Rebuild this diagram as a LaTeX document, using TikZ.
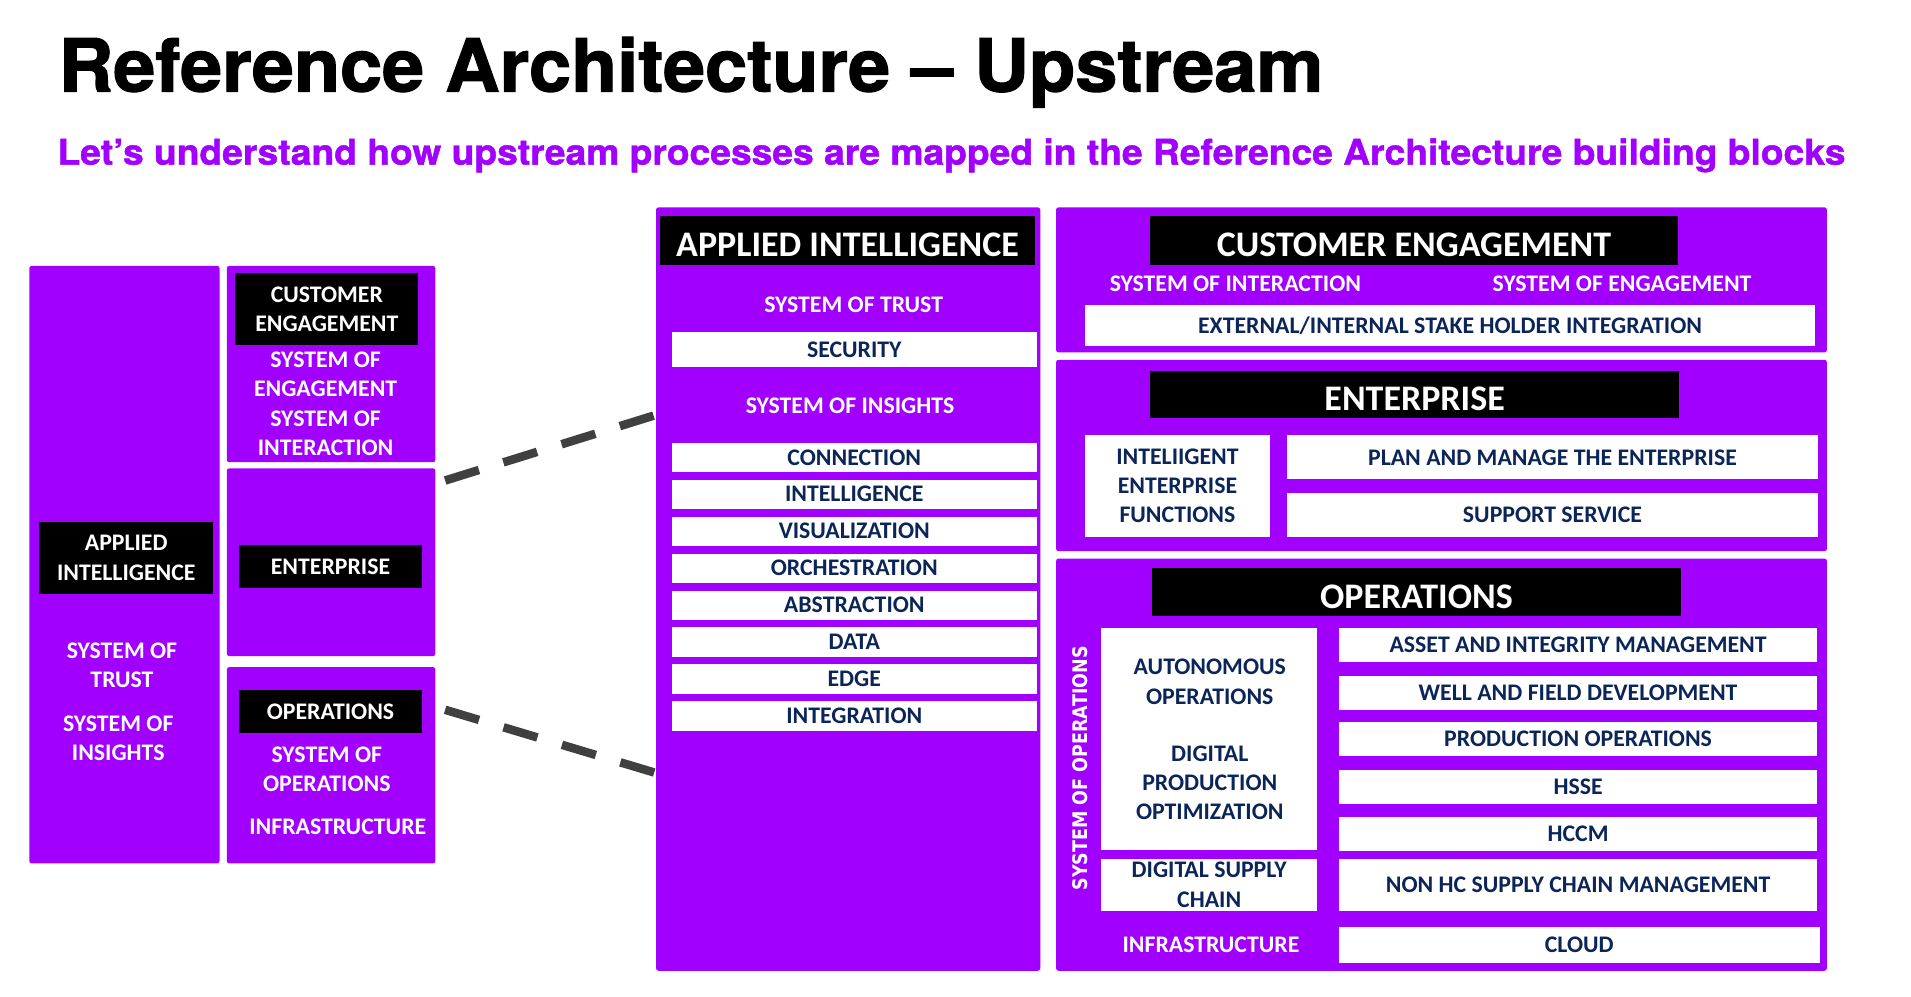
\documentclass[tikz,border=0pt]{standalone}
\usepackage{fontspec}
\usepackage{graphicx}
\setmainfont{Carlito}
\newfontfamily\ttlfont{TeX Gyre Heros}[BoldFeatures={FakeBold=1.6}]
\newfontfamily\subfont{TeX Gyre Heros}[BoldFeatures={FakeBold=1.2}]
\newfontfamily\vtfont{DejaVu Sans}
\definecolor{apurple}{HTML}{A100FF}
\definecolor{anavy}{HTML}{0B2559}
\definecolor{dashgray}{HTML}{404040}
\newcommand\rbox[7]{\node[#2, minimum width={(#5)-(#3)}, minimum height={(#6)-(#4)}] (#1) at ({((#3)+(#5))/2},{((#4)+(#6))/2}) {#7};}
\tikzset{
 pbox/.style={fill=apurple, draw=none, rounded corners=2pt, inner sep=0pt, outer sep=0pt},
 blk/.style={fill=black, text=white, inner sep=0pt, outer sep=0pt, align=center, font=\bfseries\fontsize{19.5}{24}\selectfont},
 blkbig/.style={blk, font=\bfseries\fontsize{29.5}{34}\selectfont, text height=27pt, text depth=0pt},
 wbox/.style={fill=white, text=anavy, inner sep=0pt, outer sep=0pt, align=center, font=\bfseries\fontsize{19.5}{24}\selectfont},
 wtxt/.style={text=white, inner sep=0pt, outer sep=0pt, align=center, font=\bfseries\fontsize{19.5}{24}\selectfont},
 dashline/.style={draw=dashgray, line width=7pt, dash pattern=on 29pt off 21pt},
}
\begin{document}
\begin{tikzpicture}[x=1pt,y=-1pt]
\useasboundingbox[fill=white] (0,0) rectangle (1567,817.5);
% titles
\node[anchor=base west, inner sep=0pt] (title) at (48,75) {\resizebox{1037pt}{\height}{\ttlfont\bfseries\fontsize{60}{60}\selectfont Reference Architecture – Upstream}};
\node[anchor=base west, inner sep=0pt, text=apurple] (sub) at (47,135) {\resizebox{1466pt}{\height}{\subfont\bfseries\fontsize{29}{29}\selectfont Let’s understand how upstream processes are mapped in the Reference Architecture building blocks}};
% dashed connectors (drawn under the middle panel)
\coordinate (d1a) at (365,394);
\coordinate (d1b) at (545,338);
\coordinate (d2a) at (365,582);
\coordinate (d2b) at (545,636);
\draw[dashline] (d1a) -- (d1b);
\draw[dashline] (d2a) -- (d2b);
% ---------------- left panel
\rbox{lai}{pbox}{24}{218}{180}{708}{}
\rbox{lail}{blk}{32}{428}{175}{487}{APPLIED\\INTELLIGENCE}
\node[wtxt] (ltrust) at (100,545.5) {SYSTEM OF\\TRUST};
\node[wtxt] (lins) at (97,605.5) {SYSTEM OF\\INSIGHTS};
\rbox{lce}{pbox}{186}{218}{357}{379}{}
\rbox{lcel}{blk}{193}{224}{343}{283}{CUSTOMER\\ENGAGEMENT}
\node[wtxt] (lcet) at (267,331) {SYSTEM OF\\ENGAGEMENT\\SYSTEM OF\\INTERACTION};
\rbox{lent}{pbox}{186}{384}{357}{538}{}
\rbox{lentl}{blk}{196}{447}{346}{482}{ENTERPRISE}
\rbox{lops}{pbox}{186}{547}{357}{708}{}
\rbox{lopsl}{blk}{196}{566}{346}{601}{OPERATIONS}
\node[wtxt] (lsoo) at (268,631) {SYSTEM OF\\OPERATIONS};
\node[wtxt] (linf) at (277,678) {INFRASTRUCTURE};
% ---------------- middle panel
\rbox{mid}{pbox}{538}{170}{853}{796}{}
\rbox{midl}{blkbig}{541}{177}{849}{217}{APPLIED INTELLIGENCE}
\node[wtxt] (msot) at (700,250) {SYSTEM OF TRUST};
\rbox{msec}{wbox}{551}{272}{850}{301}{SECURITY}
\node[wtxt] (msoi) at (697,333) {SYSTEM OF INSIGHTS};
\rbox{m1}{wbox}{551}{363}{850}{387}{CONNECTION}
\rbox{m2}{wbox}{551}{393.3}{850}{417.3}{INTELLIGENCE}
\rbox{m3}{wbox}{551}{423.6}{850}{447.6}{VISUALIZATION}
\rbox{m4}{wbox}{551}{453.9}{850}{477.9}{ORCHESTRATION}
\rbox{m5}{wbox}{551}{484.2}{850}{508.2}{ABSTRACTION}
\rbox{m6}{wbox}{551}{514.5}{850}{538.5}{DATA}
\rbox{m7}{wbox}{551}{544.8}{850}{568.8}{EDGE}
\rbox{m8}{wbox}{551}{575.1}{850}{599.1}{INTEGRATION}
% ---------------- right panel: customer engagement
\rbox{rce}{pbox}{866}{170}{1498}{289}{}
\rbox{rcel}{blkbig}{943}{177}{1376}{217}{CUSTOMER ENGAGEMENT}
\node[wtxt] (rsoi) at (1013,233) {SYSTEM OF INTERACTION};
\node[wtxt] (rsoe) at (1330,233) {SYSTEM OF ENGAGEMENT};
\rbox{rext}{wbox}{890}{250}{1488}{284}{EXTERNAL/INTERNAL STAKE HOLDER INTEGRATION}
% enterprise
\rbox{rent}{pbox}{866}{295}{1498}{452}{}
\rbox{rentl}{blkbig}{943}{304}{1377}{343}{ENTERPRISE}
\rbox{rief}{wbox}{890}{357}{1041}{440}{INTELIIGENT\\ENTERPRISE\\FUNCTIONS}
\rbox{rplan}{wbox}{1055}{357}{1491}{393}{PLAN AND MANAGE THE ENTERPRISE}
\rbox{rsupp}{wbox}{1055}{404}{1491}{440}{SUPPORT SERVICE}
% operations
\rbox{rops}{pbox}{866}{458}{1498}{796}{}
\rbox{ropsl}{blkbig}{945}{466}{1378}{505}{OPERATIONS}
\node[rotate=90, text=white, inner sep=0pt] (rsop) at (886,630) {\resizebox{200pt}{\height}{\vtfont\bfseries\fontsize{16.5}{16.5}\selectfont SYSTEM OF OPERATIONS}};
\rbox{rauto}{wbox}{903}{515}{1080}{697}{}
\node[wbox, fill=none] (rao) at (992,559) {AUTONOMOUS\\OPERATIONS};
\node[wbox, fill=none] (rdpo) at (992,642) {DIGITAL\\PRODUCTION\\OPTIMIZATION};
\rbox{rdsc}{wbox}{903}{704}{1080}{747}{DIGITAL SUPPLY\\CHAIN}
\node[wtxt] (rinf) at (993,775) {INFRASTRUCTURE};
\rbox{r1}{wbox}{1098}{515}{1490}{543}{ASSET AND INTEGRITY MANAGEMENT}
\rbox{r2}{wbox}{1098}{554}{1490}{582}{WELL AND FIELD DEVELOPMENT}
\rbox{r3}{wbox}{1098}{592}{1490}{620}{PRODUCTION OPERATIONS}
\rbox{r4}{wbox}{1098}{631}{1490}{659}{HSSE}
\rbox{r5}{wbox}{1098}{670}{1490}{698}{HCCM}
\rbox{r6}{wbox}{1098}{704}{1490}{747}{NON HC SUPPLY CHAIN MANAGEMENT}
\rbox{r7}{wbox}{1098}{760}{1492}{790}{CLOUD}
\end{tikzpicture}
\end{document}
